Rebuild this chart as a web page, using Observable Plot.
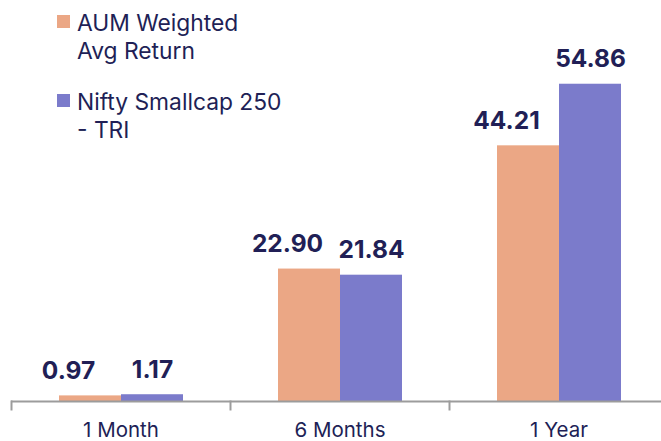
<!DOCTYPE html>
<html>
<head>
<meta charset="utf-8">
<script src="https://cdn.jsdelivr.net/npm/d3@7"></script>
<script src="https://cdn.jsdelivr.net/npm/@observablehq/plot@0.6"></script>
<style>
  html, body { margin: 0; padding: 0; overflow: hidden; background: #fff; }
  #wrap { position: relative; width: 661px; height: 441px; overflow: hidden; font-family: Inter, "Noto Sans", sans-serif; }
  #legend { position: absolute; left: 57px; top: 9px; color: #211F56; font-size: 22.8px; line-height: 28px; }
  .item { display: flex; align-items: flex-start; margin-bottom: 23px; }
  .sw { width: 13px; height: 13px; margin-top: 6px; margin-right: 7px; flex: none; }
</style>
</head>
<body>
<div id="wrap"><div id="legend"></div></div>
<script>
const categories = ["1 Month", "6 Months", "1 Year"];
const series = ["AUM Weighted Avg Return", "Nifty Smallcap 250 - TRI"];
const legendLines = [["AUM Weighted", "Avg Return"], ["Nifty Smallcap 250", "- TRI"]];
const aumValues = [0.97, 22.90, 44.21];
const niftyValues = [1.17, 21.84, 54.86];
const colors = ["#EBA785", "#7B7BCB"];
const navy = "#211F56";

const data = categories.flatMap((c, i) => [
  {cat: c, series: series[0], value: aumValues[i]},
  {cat: c, series: series[1], value: niftyValues[i]}
]);

const legend = document.getElementById("legend");
series.forEach((s, i) => {
  const item = document.createElement("div");
  item.className = "item";
  const sw = document.createElement("div");
  sw.className = "sw";
  sw.style.background = colors[i];
  const txt = document.createElement("div");
  txt.innerHTML = legendLines[i].join("<br>");
  item.appendChild(sw);
  item.appendChild(txt);
  legend.appendChild(item);
});

const chart = Plot.plot({
  width: 668,
  height: 441,
  marginLeft: 11,
  marginRight: 0,
  marginTop: 54,
  marginBottom: 32,
  style: {fontFamily: "Inter, 'Noto Sans', sans-serif", background: "transparent", maxWidth: "none"},
  fx: {domain: categories, padding: 0, label: null},
  x: {domain: series, paddingInner: 0, paddingOuter: 0.752, axis: null},
  y: {domain: [0, 60], insetBottom: 8, axis: null},
  color: {domain: series, range: colors},
  marks: [
    Plot.barY(data, {fx: "cat", x: "series", y: "value", fill: "series"}),
    Plot.ruleY([0], {stroke: "#9c9c9c", strokeWidth: 2}),
    Plot.frame({anchor: "left", insetTop: 347, stroke: "#9c9c9c", strokeWidth: 2}),
    Plot.text(data.filter(d => d.series === series[0]), {
      fx: "cat", x: "series", y: "value", text: d => d.value.toFixed(2),
      dx: -22, dy: -17, lineAnchor: "bottom", fontSize: 24.5, fontWeight: 700, fill: navy
    }),
    Plot.text(data.filter(d => d.series === series[1]), {
      fx: "cat", x: "series", y: "value", text: d => d.value.toFixed(2),
      dy: -17, lineAnchor: "bottom", fontSize: 24.5, fontWeight: 700, fill: navy
    }),
    Plot.axisFx({anchor: "bottom", tickSize: 0, tickPadding: 13, fontSize: 20.5, fill: navy, label: null})
  ]
});
chart.style.position = "absolute";
chart.style.left = "0";
chart.style.top = "0";
chart.style.maxWidth = "none";
document.getElementById("wrap").insertBefore(chart, legend);
</script>
</body>
</html>
